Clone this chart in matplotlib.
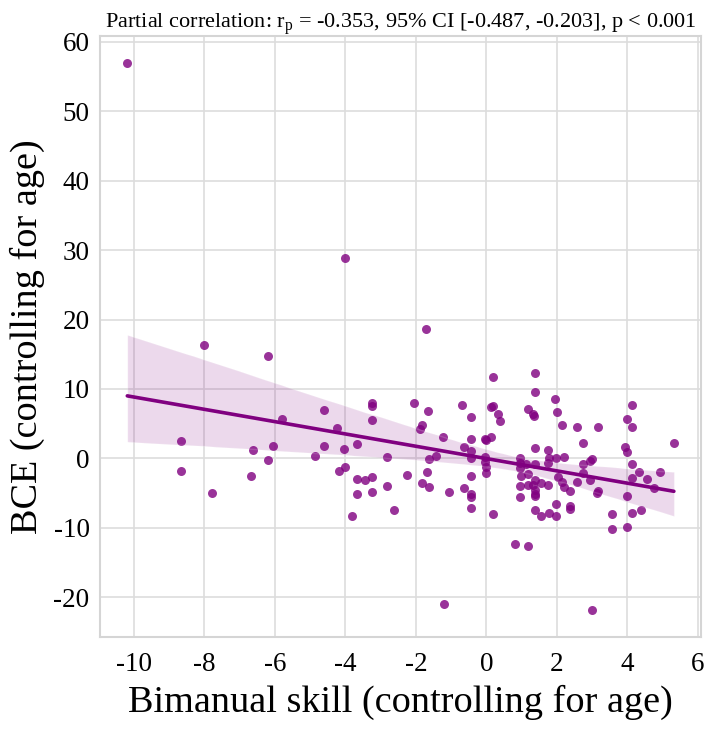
import matplotlib
matplotlib.use("Agg")
import matplotlib.pyplot as plt
import numpy as np
import pandas as pd
import seaborn as sns

# partial residuals
skill = [
    -10.19, -8.67, -8.67, -8.0, -7.8, -6.67, -6.62, -6.2, -6.2, -6.06,
    -5.81, -4.87, -4.62, -4.62, -4.23, -4.19, -4.04, -4.0, -4.0, -3.81,
    -3.67, -3.67, -3.67, -3.44, -3.25, -3.25, -3.25, -3.24, -3.24, -2.82,
    -2.82, -2.63, -2.24, -2.06, -1.87, -1.82, -1.82, -1.72, -1.67, -1.68,
    -1.63, -1.63, -1.43, -1.24, -1.21, -1.05, -0.68, -0.63, -0.63, -0.43,
    -0.43, -0.43, -0.43, -0.43, -0.43, -0.43, -0.43, -0.05, 0.0, -0.05,
    -0.05, -0.02, -0.02, 0.14, 0.18, 0.14, 0.18, 0.18, 0.33, 0.38,
    0.81, 0.94, 0.94, 0.94, 1.13, 0.99, 1.17, 0.94, 1.18, 0.94,
    1.18, 1.18, 1.32, 1.36, 1.37, 1.37, 1.37, 1.37, 1.37, 1.32,
    1.37, 1.37, 1.37, 1.37, 1.55, 1.55, 1.75, 1.79, 1.75, 1.75,
    1.79, 1.94, 1.99, 1.98, 2.03, 1.98, 1.98, 2.15, 2.19, 2.14,
    2.19, 2.37, 2.37, 2.37, 2.56, 2.56, 2.75, 2.75, 2.75, 2.94,
    3.0, 2.94, 2.99, 3.13, 3.17, 3.17, 3.56, 3.56, 3.94, 3.98,
    3.98, 3.98, 3.99, 4.14, 4.14, 4.14, 4.14, 4.14, 4.33, 4.38,
    4.55, 4.76, 4.94, 5.32,
]
bce = [
    56.9, 2.47, -1.87, 16.4, -4.9, -2.54, 1.17, 14.75, -0.27, 1.79,
    5.7, 0.35, 7.04, 1.79, 4.44, -1.82, 1.31, 28.8, -1.29, -8.33,
    2.13, -2.98, -5.1, -3.08, 8.05, 7.57, 5.55, -2.69, -4.76, 0.16,
    -3.89, -7.41, -2.36, 8.05, 4.2, 4.83, -3.6, 18.66, 6.9, -1.92,
    -0.13, -4.09, 0.35, 3.14, -20.9, -4.81, 7.72, 1.69, -4.23, 6.03,
    2.76, 1.11, 0.01, -2.54, -5.05, -5.53, -7.07, 2.76, 2.66, 0.25,
    -0.48, -1.2, -2.15, 7.39, 7.57, 3.14, 11.67, -7.94, 6.42, 5.36,
    -12.27, 0.0, -0.7, -1.3, -0.8, -2.5, -2.2, -4.0, -3.84, -5.6,
    7.1, -12.6, 6.37, 6.13, 12.3, 9.5, 1.46, -0.81, -3.1, -3.84,
    -4.5, -5.05, -5.4, -7.46, -3.51, -8.33, 1.21, 0.01, -0.71, -3.84,
    -7.85, 8.59, 6.66, 0.01, -2.64, -6.49, -8.33, 4.87, 0.25, -3.37,
    -4.09, -4.71, -6.84, -7.31, 4.49, -3.37, 2.18, -0.81, -2.15, -0.33,
    -0.13, -3.12, -21.8, -4.96, -4.67, 4.58, -7.94, -10.2, 1.69, 0.97,
    5.65, -5.43, -9.87, 7.76, 4.49, -0.81, -2.88, -7.85, -1.92, -7.36,
    -2.98, -4.23, -2.01, 2.18,
]
title_text = "Partial correlation: r$_\\mathrm{p}$ = -0.353, 95% CI [-0.487, -0.203], p < 0.001"

sns.set_style("whitegrid")
plt.rcParams["font.family"] = ["Liberation Serif", "DejaVu Serif"]
plt.rcParams["mathtext.fontset"] = "custom"
plt.rcParams["mathtext.rm"] = "Liberation Serif"
plt.rcParams["axes.unicode_minus"] = False
plt.rcParams["text.color"] = "black"
plt.rcParams["axes.labelcolor"] = "black"
plt.rcParams["xtick.color"] = "black"
plt.rcParams["ytick.color"] = "black"

df = pd.DataFrame({"skill": skill, "bce": bce})

fig, ax = plt.subplots(figsize=(7.09, 7.30), dpi=100)
fig.subplots_adjust(left=0.141, right=0.989, top=0.951, bottom=0.127)

sns.regplot(
    data=df, x="skill", y="bce", ax=ax, color="purple", seed=0,
    scatter_kws={"s": 42, "alpha": 0.8, "linewidths": 0},
    line_kws={"lw": 2.6},
)

ax.set_title(title_text, fontsize=16, pad=5)
ax.set_xlabel("Bimanual skill (controlling for age)", fontsize=27.5, labelpad=6)
ax.set_ylabel("BCE (controlling for age)", fontsize=27.5, labelpad=6)
ax.tick_params(axis="x", labelsize=19.5, pad=7)
ax.tick_params(axis="y", labelsize=19.5, pad=4)
ax.set_xticks(np.arange(-10, 7, 2))
ax.set_yticks(np.arange(-20, 61, 10))
for spine in ax.spines.values():
    spine.set_color("#d5d5d5")
    spine.set_linewidth(1.5)
ax.grid(color="#dddddd", linewidth=1.2)

fig.savefig("out.png", dpi=100)
